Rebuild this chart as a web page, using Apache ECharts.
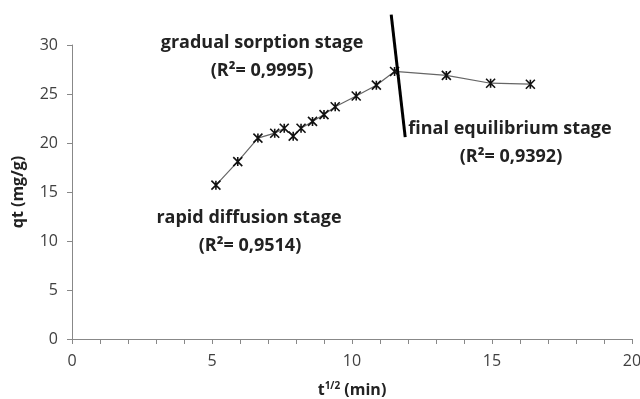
<!DOCTYPE html>
<html>
<head>
<meta charset="utf-8">
<script src="https://cdn.jsdelivr.net/npm/echarts@6/dist/echarts.min.js"></script>
<style>
html,body{margin:0;padding:0;background:#fff;}
#chart{width:640px;height:399px;}
</style>
</head>
<body>
<div id="chart"></div>
<script>
// t^1/2 (min) and qt (mg/g)
var tSqrt = [5.14, 5.92, 6.64, 7.24, 7.58, 7.90, 8.18, 8.59, 9.00, 9.40, 10.15, 10.87, 11.52, 13.37, 14.95, 16.37];
var qt = [15.7, 18.1, 20.5, 21.0, 21.5, 20.7, 21.5, 22.2, 22.9, 23.7, 24.8, 25.9, 27.3, 26.9, 26.1, 26.0];
// divider line between stages
var dividerT = [11.4, 11.9];
var dividerQ = [33.1, 20.6];

var font = 'Open Sans, Lato, sans-serif';
var bold = 'bold 18px ' + font;
function note(text, x, y) {
    return {
        type: 'text', x: x, y: y, z: 10,
        style: {text: text, font: bold, fill: '#222', align: 'center', verticalAlign: 'middle'}
    };
}

var myChart = echarts.init(document.getElementById('chart'));
var option = {
    backgroundColor: '#fff',
    animation: false,
    grid: {left: 72, right: 8, top: 45, bottom: 60, containLabel: false, outerBoundsMode: 'none'},
    xAxis: {
        type: 'value',
        min: 0, max: 20, interval: 1,
        name: '{t|t}{s|1/2}{t| (min)}',
        nameLocation: 'middle',
        nameGap: 42,
        nameTextStyle: {
            rich: {
                t: {fontFamily: font, fontWeight: 'bold', fontSize: 16, color: '#222'},
                s: {fontFamily: font, fontWeight: 'bold', fontSize: 10, color: '#222', verticalAlign: 'top', padding: [0, 0, 9, 0]}
            }
        },
        axisLine: {lineStyle: {color: '#888', width: 1}},
        axisTick: {show: true, length: 5, lineStyle: {color: '#888'}},
        axisLabel: {
            color: '#404040', fontSize: 16, fontFamily: font, margin: 14,
            formatter: function (v) { return v % 5 === 0 ? v : ''; }
        },
        splitLine: {show: false}
    },
    yAxis: {
        type: 'value',
        min: 0, max: 30, interval: 5,
        name: 'qt (mg/g)',
        nameLocation: 'middle',
        nameGap: 46,
        nameTextStyle: {fontFamily: font, fontWeight: 'bold', fontSize: 16, color: '#222'},
        axisLine: {show: true, lineStyle: {color: '#888', width: 1}},
        axisTick: {show: true, length: 5, lineStyle: {color: '#888'}},
        axisLabel: {color: '#404040', fontSize: 16, fontFamily: font, margin: 14},
        splitLine: {show: false}
    },
    series: [
        {
            type: 'line',
            data: tSqrt.map(function (t, i) { return [t, qt[i]]; }),
            symbol: 'path://M0,0L10,10M10,0L0,10M5,0L5,10',
            symbolSize: 9,
            itemStyle: {color: 'none', borderColor: '#111', borderWidth: 1.6},
            lineStyle: {color: '#666', width: 1.2},
            z: 3
        },
        {
            type: 'line',
            data: dividerT.map(function (t, i) { return [t, dividerQ[i]]; }),
            symbol: 'none',
            clip: false,
            lineStyle: {color: '#000', width: 3},
            z: 4
        }
    ],
    graphic: [
        note('gradual sorption stage', 262, 43),
        note('(R²= 0,9995)', 262, 71),
        note('rapid diffusion stage', 249, 218),
        note('(R²= 0,9514)', 250, 246),
        note('final equilibrium stage', 510, 129),
        note('(R²= 0,9392)', 511, 157)
    ]
};
myChart.setOption(option);
</script>
</body>
</html>
